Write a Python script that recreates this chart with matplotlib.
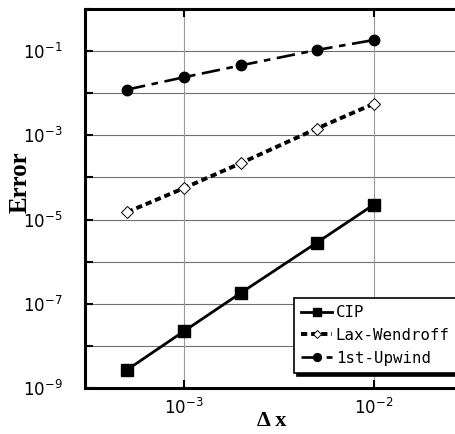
import matplotlib
matplotlib.use("Agg")
import matplotlib.pyplot as plt
from matplotlib.ticker import FixedLocator, FixedFormatter, NullLocator

plt.rcParams['mathtext.fontset'] = 'custom'
plt.rcParams['mathtext.rm'] = 'Liberation Sans'
plt.rcParams['mathtext.it'] = 'Liberation Sans:italic'
plt.rcParams['mathtext.bf'] = 'Liberation Sans:bold'

dx = [5e-4, 1e-3, 2e-3, 5e-3, 1e-2]
cip = [2.7e-9, 2.24e-8, 1.83e-7, 2.8e-6, 2.24e-5]
lax_wendroff = [1.5e-5, 5.6e-5, 2.2e-4, 1.44e-3, 5.6e-3]
upwind = [1.22e-2, 2.4e-2, 4.6e-2, 1.06e-1, 1.83e-1]

series_names = ["CIP", "Lax-Wendroff", "1st-Upwind"]
xtick_vals = [1e-3, 1e-2]
xtick_labels = [r"$\mathregular{10^{-3}}$", r"$\mathregular{10^{-2}}$"]
ytick_vals = [10.0 ** e for e in range(-9, 1)]
ytick_labels = [r"$\mathregular{10^{%d}}$" % e if e % 2 != 0 else "" for e in range(-9, 1)]

W, H = 456, 434
fig = plt.figure(figsize=(W / 100, H / 100), dpi=100)
ax = fig.add_axes([85 / W, 1 - 388 / H, (464 - 85) / W, (388 - 9) / H])
ax.set_xscale('log')
ax.set_yscale('log')
ax.set_xlim(3e-4, 3e-2)
ax.set_ylim(1e-9, 1)

# grid
for v in ytick_vals[1:-1]:
    ax.axhline(v, color='#707070', lw=0.8, zorder=1)
for v in xtick_vals:
    ax.axvline(v, color='#9a9a9a', lw=0.8, zorder=1)

ax.plot(dx, cip, color='black', lw=2.0, marker='s', ms=8,
        mfc='black', mec='black', label=series_names[0], zorder=3)
ax.plot(dx, lax_wendroff, color='black', lw=2.8, dashes=(1.6, 1.0),
        dash_capstyle='butt', marker='D', ms=6, mfc='white', mec='black',
        mew=0.7, label=series_names[1], zorder=3)
ax.plot(dx, upwind, color='black', lw=1.9, dashes=(7, 2.5, 2.5, 2.5),
        marker='o', ms=7.5, mfc='black', mec='black', label=series_names[2],
        zorder=3)

ax.xaxis.set_major_locator(FixedLocator(xtick_vals))
ax.xaxis.set_major_formatter(FixedFormatter(xtick_labels))
ax.xaxis.set_minor_locator(NullLocator())
ax.yaxis.set_major_locator(FixedLocator(ytick_vals))
ax.yaxis.set_major_formatter(FixedFormatter(ytick_labels))
ax.yaxis.set_minor_locator(NullLocator())

ax.tick_params(axis='both', which='major', direction='in', length=6, width=1.5,
               labelsize=12, top=True, right=False, color='black')
ax.tick_params(axis='x', pad=7)
ax.tick_params(axis='y', pad=16)

for s in ax.spines.values():
    s.set_linewidth(2.2)
    s.set_zorder(4)
ax.spines['right'].set_visible(False)

fig.text(20 / W, 1 - 182 / H, "Error", rotation=90, ha='center', va='center',
         family='Liberation Serif', fontweight='bold', fontsize=18)
fig.text(272 / W, 1 - 421 / H, "Δ x", ha='center', va='center',
         family='Liberation Serif', fontweight='bold', fontsize=16)

leg = ax.legend(loc='upper left', bbox_to_anchor=(294 / W, 1 - 298 / H),
                bbox_transform=fig.transFigure, prop={'family': 'DejaVu Sans Mono', 'size': 11.3},
                frameon=True, fancybox=False, shadow={'color': 'black', 'alpha': 1.0},
                framealpha=1, edgecolor='black', handlelength=2.0, markerscale=0.75,
                handletextpad=0.2, labelspacing=0.5, borderpad=0.45,
                borderaxespad=0)
leg.get_frame().set_linewidth(1.2)
leg.set_zorder(6)

fig.savefig("out.png", dpi=100)
